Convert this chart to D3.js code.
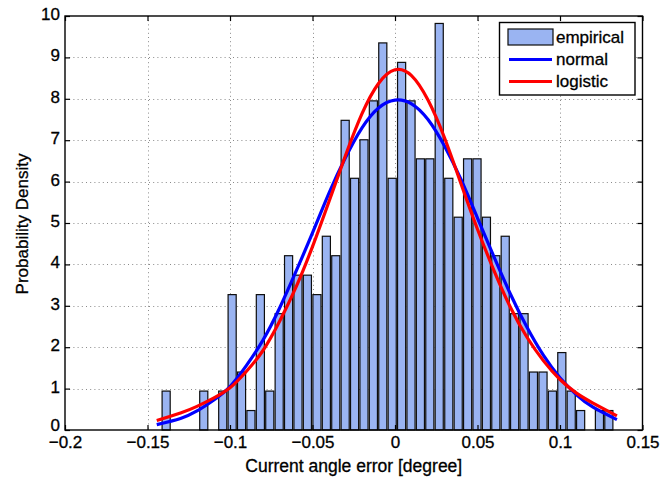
<!DOCTYPE html>
<html>
<head>
<meta charset="utf-8">
<script src="https://cdn.jsdelivr.net/npm/d3@7"></script>
<style>
  body { margin: 0; background: #fff; }
  svg { display: block; }
  text { font-family: "Liberation Sans", Arial, Helvetica, sans-serif; fill: #000; stroke: #000; stroke-width: 0.3px; }
</style>
</head>
<body>
<svg id="chart" width="664" height="478"></svg>
<script>
// Histogram bins (centres, in degrees) and their probability density
const binCenters = [
  -0.1387, -0.1330, -0.1273, -0.1216, -0.1159, -0.1102, -0.1044, -0.0987,
  -0.0930, -0.0873, -0.0816, -0.0759, -0.0702, -0.0645, -0.0588, -0.0531,
  -0.0473, -0.0416, -0.0359, -0.0302, -0.0245, -0.0188, -0.0131, -0.0074,
  -0.0017,  0.0040,  0.0097,  0.0154,  0.0211,  0.0268,  0.0326,  0.0383,
   0.0440,  0.0497,  0.0554,  0.0611,  0.0668,  0.0725,  0.0782,  0.0839,
   0.0897,  0.0954,  0.1011,  0.1068,  0.1125,  0.1182,  0.1239,  0.1296
];
const binWidth = 0.00571;
const empiricalDensity = [
  0.94, 0, 0, 0, 0.94, 0, 0.94, 3.27,
  1.40, 0.47, 3.27, 0.94, 2.81, 4.21, 3.74, 3.74,
  3.27, 4.68, 4.21, 7.48, 6.08, 7.01, 7.95, 9.35,
  6.08, 8.88, 7.95, 6.55, 6.55, 9.82, 6.08, 5.14,
  6.55, 6.55, 5.14, 4.21, 4.68, 2.81, 2.81, 1.40,
  1.40, 0.94, 1.87, 0.94, 0.47, 0, 0.47, 0.47
];

// Fitted distributions sampled along the error axis
const curveX = [
  -0.1444, -0.13, -0.12, -0.11, -0.10, -0.09, -0.08, -0.07, -0.06, -0.05,
  -0.04, -0.03, -0.02, -0.01, 0, 0.01, 0.02, 0.03, 0.04, 0.05,
  0.06, 0.07, 0.08, 0.09, 0.10, 0.11, 0.12, 0.1345
];
const normalDensity = [
  0.13, 0.28, 0.46, 0.72, 1.05, 1.56, 2.17, 2.94, 3.83, 4.76,
  5.72, 6.58, 7.30, 7.78, 7.97, 7.88, 7.50, 6.86, 6.05, 5.12,
  4.18, 3.28, 2.48, 1.80, 1.26, 0.85, 0.55, 0.25
];
const logisticDensity = [
  0.23, 0.41, 0.57, 0.77, 1.02, 1.42, 1.92, 2.62, 3.45, 4.43,
  5.52, 6.63, 7.64, 8.37, 8.70, 8.56, 7.97, 7.06, 5.95, 4.85,
  3.85, 2.96, 2.24, 1.67, 1.22, 0.89, 0.65, 0.34
];

// Axis ticks and legend
const xTicks = [-0.2, -0.15, -0.1, -0.05, 0, 0.05, 0.1, 0.15];
const xTickLabels = ["\u22120.2", "\u22120.15", "\u22120.1", "\u22120.05", "0", "0.05", "0.1", "0.15"];
const yTicks = [0, 1, 2, 3, 4, 5, 6, 7, 8, 9, 10];
const legendLabels = ["empirical", "normal", "logistic"];
const xTitle = "Current angle error [degree]";
const yTitle = "Probability Density";

const barFill = "#9ab4f2";
const normalColor = "#0000ff";
const logisticColor = "#ff0000";

const svg = d3.select("#chart");
const plotL = 65, plotR = 642.5, plotT = 16, plotB = 430;

const x = d3.scaleLinear().domain([-0.2, 0.15]).range([plotL, plotR]);
const y = d3.scaleLinear().domain([0, 10]).range([plotB, plotT]);

// dotted grid
const grid = svg.append("g")
  .attr("stroke", "#8a8a8a")
  .attr("stroke-width", 1)
  .attr("stroke-dasharray", "1,3.2");
grid.selectAll("line.gx").data(xTicks.slice(1, -1)).join("line")
  .attr("class", "gx")
  .attr("x1", d => Math.round(x(d)) + 0.5).attr("x2", d => Math.round(x(d)) + 0.5)
  .attr("y1", plotT).attr("y2", plotB);
grid.selectAll("line.gy").data(yTicks.slice(1, -1)).join("line")
  .attr("class", "gy")
  .attr("y1", d => Math.round(y(d)) + 0.5).attr("y2", d => Math.round(y(d)) + 0.5)
  .attr("x1", plotL).attr("x2", plotR);

// histogram bars
const barFrac = 0.86;
svg.append("g").selectAll("rect")
  .data(binCenters.map((c, i) => ({ c, v: empiricalDensity[i] })).filter(d => d.v > 0))
  .join("rect")
  .attr("x", d => x(d.c - binWidth * barFrac / 2))
  .attr("width", d => x(d.c + binWidth * barFrac / 2) - x(d.c - binWidth * barFrac / 2))
  .attr("y", d => y(d.v))
  .attr("height", d => y(0) - y(d.v))
  .attr("fill", barFill)
  .attr("stroke", "#0d0d0d")
  .attr("stroke-width", 1.2);

// fitted curves
const line = d3.line().x(d => x(d[0])).y(d => y(d[1])).curve(d3.curveNatural);
svg.append("path")
  .datum(curveX.map((v, i) => [v, normalDensity[i]]))
  .attr("d", line).attr("fill", "none")
  .attr("stroke", normalColor).attr("stroke-width", 3.2);
svg.append("path")
  .datum(curveX.map((v, i) => [v, logisticDensity[i]]))
  .attr("d", line).attr("fill", "none")
  .attr("stroke", logisticColor).attr("stroke-width", 3.2);

// axes with inward ticks on all four sides
const fontSize = "17px";
const xAxis = svg.append("g").attr("transform", `translate(0,${plotB})`)
  .call(d3.axisBottom(x).tickValues(xTicks).tickFormat((d, i) => xTickLabels[i]).tickSize(-5).tickPadding(6));
const yAxis = svg.append("g").attr("transform", `translate(${plotL},0)`)
  .call(d3.axisLeft(y).tickValues(yTicks).tickFormat(d3.format("d")).tickSize(-5).tickPadding(5));
const xAxisTop = svg.append("g").attr("transform", `translate(0,${plotT})`)
  .call(d3.axisTop(x).tickValues(xTicks).tickFormat("").tickSize(-5));
const yAxisRight = svg.append("g").attr("transform", `translate(${plotR},0)`)
  .call(d3.axisRight(y).tickValues(yTicks).tickFormat("").tickSize(-5));
[xAxis, yAxis, xAxisTop, yAxisRight].forEach(g => {
  g.select(".domain").remove();
  g.selectAll(".tick line").attr("stroke", "#000").attr("stroke-width", 1.2);
  g.selectAll("text").attr("font-size", fontSize).attr("fill", "#000")
    .attr("font-family", '"Liberation Sans", Arial, sans-serif');
});
// y labels sit a touch above their ticks so "0" clears the x labels
yAxis.selectAll(".tick text").attr("dy", "0.2em");
yAxis.selectAll(".tick text").filter(d => d === 0).attr("dy", "0.05em");

// frame
svg.append("rect")
  .attr("x", plotL).attr("y", plotT)
  .attr("width", plotR - plotL).attr("height", plotB - plotT)
  .attr("fill", "none").attr("stroke", "#000").attr("stroke-width", 1.4);

// axis titles
svg.append("text")
  .attr("x", (plotL + plotR) / 2).attr("y", 472)
  .attr("text-anchor", "middle").attr("font-size", "17.5px")
  .text(xTitle);
svg.append("text")
  .attr("transform", `translate(28,${(plotT + plotB) / 2 + 1}) rotate(-90)`)
  .attr("text-anchor", "middle").attr("font-size", "17px")
  .text(yTitle);

// legend
const lg = svg.append("g");
lg.append("rect")
  .attr("x", 499.5).attr("y", 22.5).attr("width", 135.5).attr("height", 72.5)
  .attr("fill", "#fff").attr("stroke", "#000").attr("stroke-width", 1.4);
const rowY = [37, 59.5, 81.5];
lg.append("rect")
  .attr("x", 508).attr("y", rowY[0] - 8).attr("width", 45).attr("height", 16)
  .attr("fill", barFill).attr("stroke", "#0d0d0d").attr("stroke-width", 1.2);
[normalColor, logisticColor].forEach((c, i) => {
  lg.append("line")
    .attr("x1", 509).attr("x2", 552)
    .attr("y1", rowY[i + 1]).attr("y2", rowY[i + 1])
    .attr("stroke", c).attr("stroke-width", 3.2);
});
legendLabels.forEach((t, i) => {
  lg.append("text")
    .attr("x", 556).attr("y", rowY[i] + 5.5)
    .attr("font-size", "17px")
    .text(t);
});
</script>
</body>
</html>
